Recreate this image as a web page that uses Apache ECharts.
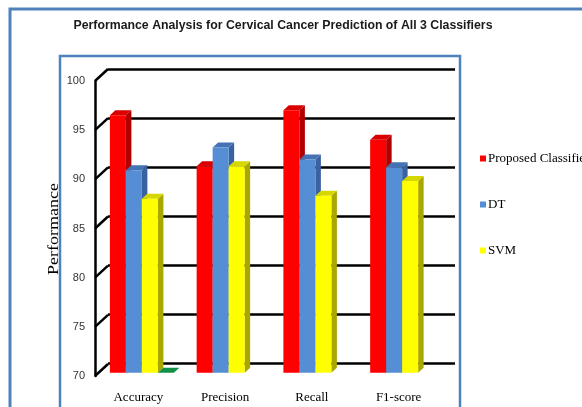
<!DOCTYPE html>
<html>
<head>
<meta charset="utf-8">
<script src="https://cdn.jsdelivr.net/npm/echarts@6/dist/echarts.min.js"></script>
<style>
  html, body { margin: 0; padding: 0; background: #fff; }
  #chart { width: 582px; height: 407px; }
</style>
</head>
<body>
<div id="chart"></div>
<script>
// Data
const categories = ['Accuracy', 'Precision', 'Recall', 'F1-score'];
const proposed = [96.2, 91.0, 96.7, 93.7];
const dt = [90.6, 92.9, 91.7, 90.9];
const svm = [87.7, 91.0, 88.0, 89.5];
const extraSeries = [70, null, null, null]; // flat fourth series
const yTicks = [70, 75, 80, 85, 90, 95, 100];
const seriesNames = ['Proposed Classifier', 'DT', 'SVM'];
const yAxisTitle = 'Performance';

// 3D look: back wall offset, bar depth and colours
const WALL_DX = 13, WALL_DY = -12;
const BAR_DEPTH_FRAC = 0.27;
const BAR_DX = 5.5, BAR_DY = -5;
const SLOTS = 4;
const BAR_FRAC = 0.1844;

const palettes = [
  { front: '#ff0000', top: '#d80000', side: '#b00000' },
  { front: '#558ed5', top: '#4472b4', side: '#3a62a0' },
  { front: '#ffff00', top: '#d6d600', side: '#a8a800' },
  { front: '#00a050', top: '#109048', side: '#007838' }
];

function barRenderer(slot) {
  const pal = palettes[slot];
  return function (params, api) {
    const ci = api.value(0), v = api.value(1);
    const base = api.coord([ci, yTicks[0]]);
    const top = api.coord([ci, v]);
    const band = api.size([1, 0])[0];
    const w = band * BAR_FRAC;
    const sx = WALL_DX * BAR_DEPTH_FRAC, sy = WALL_DY * BAR_DEPTH_FRAC;
    const x0 = base[0] - (SLOTS / 2) * w + slot * w + sx;
    const x1 = x0 + w;
    const yb = base[1] + sy;
    const yt = top[1] + sy;
    const children = [];
    children.push({
      type: 'polygon',
      shape: { points: [[x1, yb], [x1, yt], [x1 + BAR_DX, yt + BAR_DY], [x1 + BAR_DX, yb + BAR_DY]] },
      style: { fill: pal.side }
    });
    children.push({
      type: 'polygon',
      shape: { points: [[x0, yt], [x1, yt], [x1 + BAR_DX, yt + BAR_DY], [x0 + BAR_DX, yt + BAR_DY]] },
      style: { fill: pal.top }
    });
    if (yb - yt > 0) {
      children.push({
        type: 'rect',
        shape: { x: x0, y: yt, width: w, height: yb - yt },
        style: { fill: pal.front }
      });
    }
    return { type: 'group', children: children };
  };
}

function toPoints(arr) {
  const out = [];
  arr.forEach((v, i) => { if (v !== null) out.push([i, v]); });
  return out;
}

const barSeries = [proposed, dt, svm, extraSeries].map((arr, k) => ({
  type: 'custom',
  name: k < 3 ? seriesNames[k] : 'extra',
  xAxisIndex: 0, yAxisIndex: 0,
  clip: false,
  z: 10 + k,
  itemStyle: { color: palettes[k].front },
  encode: { x: 0, y: 1 },
  renderItem: barRenderer(k),
  data: toPoints(arr)
}));

// Slanted connectors from the front value axis to the back wall
const connectorSeries = {
  type: 'custom',
  name: 'connectors',
  xAxisIndex: 0, yAxisIndex: 0,
  clip: false,
  z: 5,
  silent: true,
  encode: { x: 0, y: 1 },
  renderItem: function (params, api) {
    const p = api.coord([0, api.value(1)]);
    const band = api.size([1, 0])[0];
    const x = p[0] - band / 2;
    return {
      type: 'line',
      shape: { x1: x, y1: p[1], x2: x + WALL_DX, y2: p[1] + WALL_DY },
      style: { stroke: '#000', lineWidth: 2.5 }
    };
  },
  data: yTicks.map(t => [0, t])
};

const frontGrid = { left: 95, top: 81, width: 347, height: 295 };
const backGrid = {
  left: frontGrid.left + WALL_DX, top: frontGrid.top + WALL_DY,
  width: frontGrid.width, height: frontGrid.height - 1
};

const chart = echarts.init(document.getElementById('chart'), null, { renderer: 'canvas' });
chart.setOption({
  animation: false,
  backgroundColor: '#ffffff',
  title: {
    text: 'Performance Analysis for Cervical Cancer Prediction of All 3 Classifiers',
    left: 278, top: 15, textAlign: 'center',
    textStyle: { fontFamily: 'Liberation Sans, Arial, sans-serif', fontWeight: 'bold', fontSize: 12.3, color: '#1a1a1a' }
  },
  legend: {
    data: seriesNames,
    orient: 'vertical',
    left: 475, top: 147,
    itemWidth: 6, itemHeight: 6, itemGap: 33,
    icon: 'rect',
    selectedMode: false,
    textStyle: { fontFamily: 'Liberation Serif, Times New Roman, serif', fontSize: 13, color: '#000', padding: [0, 0, 0, -3] }
  },
  grid: [
    Object.assign({ containLabel: false }, frontGrid),
    Object.assign({ containLabel: false }, backGrid)
  ],
  xAxis: [
    {
      type: 'category', gridIndex: 0, data: categories,
      axisLine: { show: false }, axisTick: { show: false },
      axisLabel: { margin: 15, fontFamily: 'Liberation Serif, Times New Roman, serif', fontSize: 13, color: '#000' }
    },
    {
      type: 'category', gridIndex: 1, data: categories,
      axisLine: { show: false }, axisTick: { show: false }, axisLabel: { show: false }
    }
  ],
  yAxis: [
    {
      type: 'value', gridIndex: 0, min: 70, max: 100, interval: 5,
      axisLine: { show: true, lineStyle: { color: '#000', width: 2.5 } },
      axisTick: { show: false },
      splitLine: { show: false },
      axisLabel: { margin: 10, fontFamily: 'Liberation Sans, Arial, sans-serif', fontSize: 11, color: '#333' }
    },
    {
      type: 'value', gridIndex: 1, min: 70, max: 100, interval: 5,
      axisLine: { show: false }, axisTick: { show: false }, axisLabel: { show: false },
      splitLine: { show: true, lineStyle: { color: '#000', width: 2.5 } }
    }
  ],
  graphic: [
    { type: 'rect', shape: { x: 10, y: 9, width: 620, height: 440 }, style: { fill: 'none', stroke: '#4f81bd', lineWidth: 3 }, z: 0 },
    { type: 'rect', shape: { x: 60, y: 56, width: 400, height: 400 }, style: { fill: 'none', stroke: '#4f81bd', lineWidth: 2.5 }, z: 0 },
    {
      type: 'text', x: 54, y: 229, rotation: Math.PI / 2, scaleX: 1.2, z: 3,
      style: {
        text: yAxisTitle, align: 'center', verticalAlign: 'middle',
        font: '15px "Liberation Serif", "Times New Roman", serif', fill: '#000'
      }
    }
  ],
  series: [connectorSeries].concat(barSeries)
});
</script>
</body>
</html>
